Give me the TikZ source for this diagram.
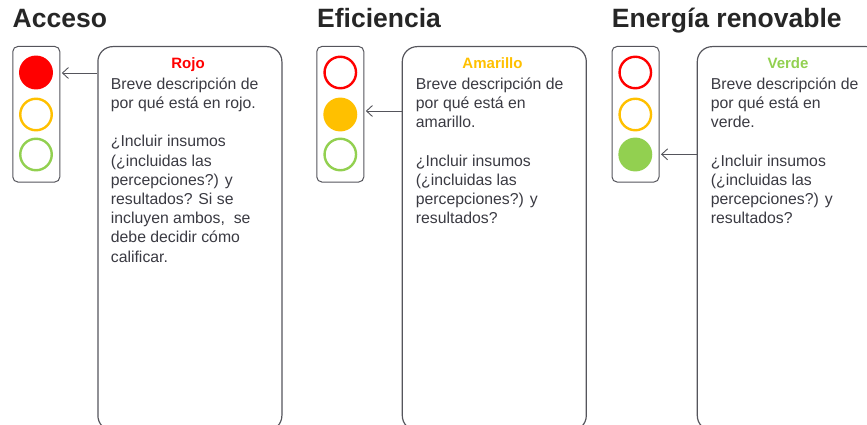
\documentclass[tikz,border=0pt]{standalone}
\usepackage{fontspec}
\setmainfont{Liberation Sans}
\usetikzlibrary{arrows.meta}
\definecolor{tlred}{HTML}{FF0000}
\definecolor{tlamber}{HTML}{FFC000}
\definecolor{tlgreen}{HTML}{92D050}
\definecolor{titlecol}{HTML}{262626}
\definecolor{bodycol}{HTML}{3A3A42}
\definecolor{edgecol}{HTML}{55555C}
\newcommand{\topstrut}{\rule{0pt}{14pt}}
\begin{document}
\begin{tikzpicture}[x=1pt,y=-1pt,
 title/.style={anchor=base west, inner sep=0, font=\fontsize{26.5}{30}\selectfont\bfseries, text=titlecol},
 light/.style={draw=edgecol, line width=1pt, rounded corners=5pt, minimum width=47pt, minimum height=135.5pt, anchor=north west, inner sep=0},
 lamp/.style={circle, line width=2.4pt, minimum size=31.5pt, inner sep=0},
 descbox/.style={draw=edgecol, line width=1.2pt, rounded corners=15pt, minimum width=184pt, minimum height=384pt, anchor=north west, inner sep=0},
 head/.style={anchor=base, inner sep=0, font=\fontsize{15}{19.2}\selectfont\bfseries},
 body/.style={anchor=north west, inner sep=0, align=left, font=\fontsize{15.8}{19.2}\selectfont, text=bodycol},
 link/.style={draw=edgecol, line width=0.9pt, shorten >=1.5pt, -{Straight Barb[length=6pt,width=11pt]}}
]
\clip (0,0) rectangle (867,425);
\useasboundingbox (0,0) rectangle (867,425);

% Panel 1
\node[title] (t1) at (12.5,28) {Acceso};
\node[light] (tl1) at (12.3,46) {};
\node[lamp, draw=tlred, fill=tlred] (r1) at (36,72.5) {};
\node[lamp, draw=tlamber] (a1) at (36,114.5) {};
\node[lamp, draw=tlgreen] (g1) at (36,154.5) {};
\node[descbox] (b1) at (97.3,46) {};
\node[head, text=tlred] (h1) at (188,69) {Rojo};
\node[body] (d1) at (110.7,75) {\topstrut Breve descripción de\\por qué está en rojo.\\[19.2pt]¿Incluir insumos\\(¿incluidas las\\percepciones?) y\\resultados? Si se\\incluyen ambos,~ se\\debe decidir cómo\\calificar.};
\coordinate (s1) at (97.3,73);
\draw[link] (s1) -- (tl1.east |- s1);

% Panel 2
\node[title] (t2) at (317,28) {Eficiencia};
\node[light] (tl2) at (316.3,46) {};
\node[lamp, draw=tlred] (r2) at (340.3,72.5) {};
\node[lamp, draw=tlamber, fill=tlamber] (a2) at (340.3,114.5) {};
\node[lamp, draw=tlgreen] (g2) at (340.3,154.5) {};
\node[descbox] (b2) at (401.7,46) {};
\node[head, text=tlamber] (h2) at (492.5,69) {Amarillo};
\node[body] (d2) at (415.7,75) {\topstrut Breve descripción de\\por qué está en\\amarillo.\\[19.2pt]¿Incluir insumos\\(¿incluidas las\\percepciones?) y\\resultados?};
\coordinate (s2) at (401.7,111);
\draw[link] (s2) -- (tl2.east |- s2);

% Panel 3
\node[title] (t3) at (611.7,28) {Energía renovable};
\node[light] (tl3) at (611.5,46) {};
\node[lamp, draw=tlred] (r3) at (635.3,72.5) {};
\node[lamp, draw=tlamber] (a3) at (635.3,114.5) {};
\node[lamp, draw=tlgreen, fill=tlgreen] (g3) at (635.3,154.5) {};
\node[descbox] (b3) at (696.7,46) {};
\node[head, text=tlgreen] (h3) at (788,69) {Verde};
\node[body] (d3) at (710.7,75) {\topstrut Breve descripción de\\por qué está en\\verde.\\[19.2pt]¿Incluir insumos\\(¿incluidas las\\percepciones?) y\\resultados?};
\coordinate (s3) at (696.7,154.3);
\draw[link] (s3) -- (tl3.east |- s3);
\end{tikzpicture}
\end{document}
